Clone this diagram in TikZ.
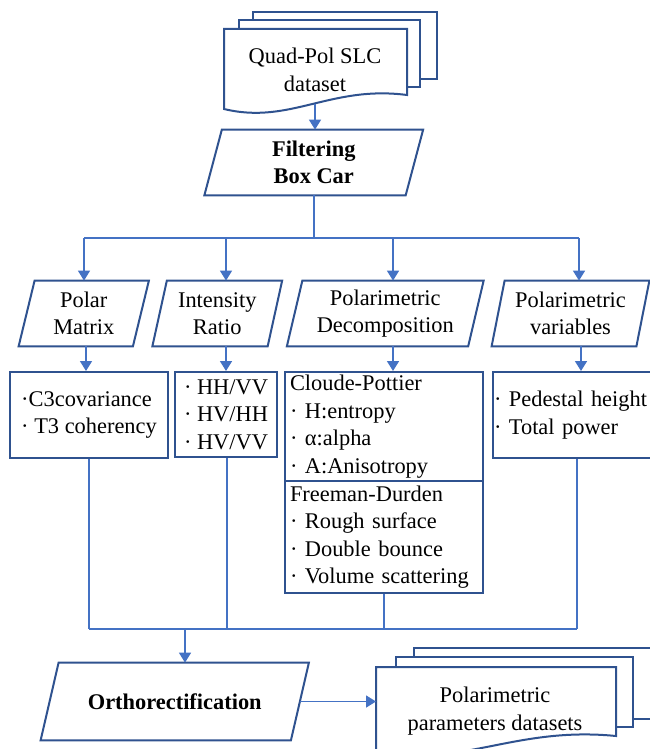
\documentclass[tikz,border=0pt]{standalone}
\usepackage{fontspec}
\setmainfont{Liberation Serif}
\usetikzlibrary{arrows.meta, calc}
\definecolor{FrameBlue}{RGB}{47,82,143}
\definecolor{LinkBlue}{RGB}{68,114,196}
\newcommand{\stepfont}{\fontsize{11.2}{13.75}\selectfont}
\tikzset{
  boxline/.style={draw=FrameBlue, line width=1pt},
  link/.style={LinkBlue, line width=0.8pt},
  arrow/.style={link, -{Triangle[length=5pt,width=6pt]}},
  stepname/.style={align=center, inner sep=0pt, minimum height=32.5pt},
  listbox/.style={boxline, align=left, inner xsep=2.5pt, inner ysep=0pt},
}

\begin{document}
\begin{tikzpicture}[x=0.5pt, y=-0.5pt, font=\stepfont]
  \useasboundingbox (0,0) rectangle (649,749);
  % input stack of pages
  \draw[boxline, fill=white] (253,12) rectangle (437,79);
  \draw[boxline, fill=white] (239,20) rectangle (420,87);
  \draw[boxline, fill=white] (224,29) -- (407,29) -- (407,95)
        .. controls (330,85) and (290,125) .. (224,109) -- cycle;
  \node[align=center] (srcdoc) at (315,70) {Quad-Pol SLC\\dataset};
  \coordinate (srcbot) at (315,104);

  % slanted steps
  \node[stepname, minimum width=100.25pt, font=\stepfont\bfseries] (filter) at (313.75,162.5) {Filtering\\Box Car};
  \node[stepname, minimum width=56.75pt] (polar) at (83.75,313.5) {Polar\\Matrix};
  \node[stepname, minimum width=57.25pt] (ratio) at (217.25,313.5) {Intensity\\Ratio};
  \node[stepname, minimum width=90.25pt] (decomp) at (385.25,313.5) {Polarimetric\\Decomposition};
  \node[stepname, minimum width=72pt] (vars) at (570.5,313.5) {Polarimetric\\variables};
  \node[stepname, minimum width=124.75pt, minimum height=38.5pt, font=\stepfont\bfseries] (ortho) at (174.75,701.5) {Orthorectification};
  \foreach \n/\s in {filter/8.75, polar/8, ratio/7.25, decomp/7.75, vars/6.5, ortho/9}
    \draw[boxline] ($(\n.north west)+(\s,0)$) -- ($(\n.north east)+(\s,0)$)
      -- ($(\n.south east)-(\s,0)$) -- ($(\n.south west)-(\s,0)$) -- cycle;

  % parameter lists
  \node[listbox, minimum width=79pt, minimum height=43pt] (c3box) at (89,415) {·C3covariance\\· T3 coherency};
  \node[listbox, minimum width=51pt, minimum height=42.5pt] (ratiobox) at (226,414.5) {· HH/VV\\· HV/HH\\· HV/VV};
  \node[listbox, text width=94pt, minimum height=54.5pt] (cloude) at (384,426.5) {Cloude-Pottier\\· H:entropy\\· α:alpha\\· A:Anisotropy};
  \node[listbox, text width=94pt, minimum height=56pt] (freeman) at (384,537) {Freeman-Durden\\· Rough surface\\· Double bounce\\· Volume scattering};
  \node[listbox, inner xsep=0.5pt, text width=78.5pt, minimum height=43pt] (pedestal) at (572.5,415) {· Pedestal height\\· Total power};

  % fan out
  \coordinate (busL) at (84,238);
  \coordinate (busR) at (579,238);
  \draw[arrow] (srcbot) -- (srcbot |- filter.north);
  \draw[link] (filter.south) -- (filter.south |- busL);
  \draw[link] (busL) -- (busR);
  \foreach \n/\x in {polar/84, ratio/226, decomp/393, vars/579}
    \draw[arrow] (\x,238) -- (\x,0 |- \n.north);
  \foreach \n/\m/\x in {polar/c3box/86, ratio/ratiobox/226, decomp/cloude/393, vars/pedestal/581}
    \draw[arrow] (\x,0 |- \n.south) -- (\x,0 |- \m.north);

  % gather
  \coordinate (joinL) at (89,629);
  \coordinate (joinR) at (577,629);
  \coordinate (join) at (185,629);
  \foreach \n/\x in {c3box/89, ratiobox/227, freeman/384, pedestal/577}
    \draw[link] (\x,0 |- \n.south) -- (\x,629);
  \draw[link] (joinL) -- (joinR);
  \draw[arrow] (join) -- (join |- ortho.north);

  % output stack of pages
  \draw[boxline, fill=white] (414,648) rectangle (680,719);
  \draw[boxline, fill=white] (396,657) rectangle (633,727);
  \draw[boxline, fill=white] (376,667) -- (616,667) -- (616,736)
        .. controls (515,726) and (462,768) .. (376,752) -- cycle;
  \node[align=center] (outdoc) at (495,711) {Polarimetric\\parameters datasets};
  \coordinate (outleft) at (376,701.5);
  \draw[arrow] (ortho.east) -- (outleft);
\end{tikzpicture}
\end{document}
